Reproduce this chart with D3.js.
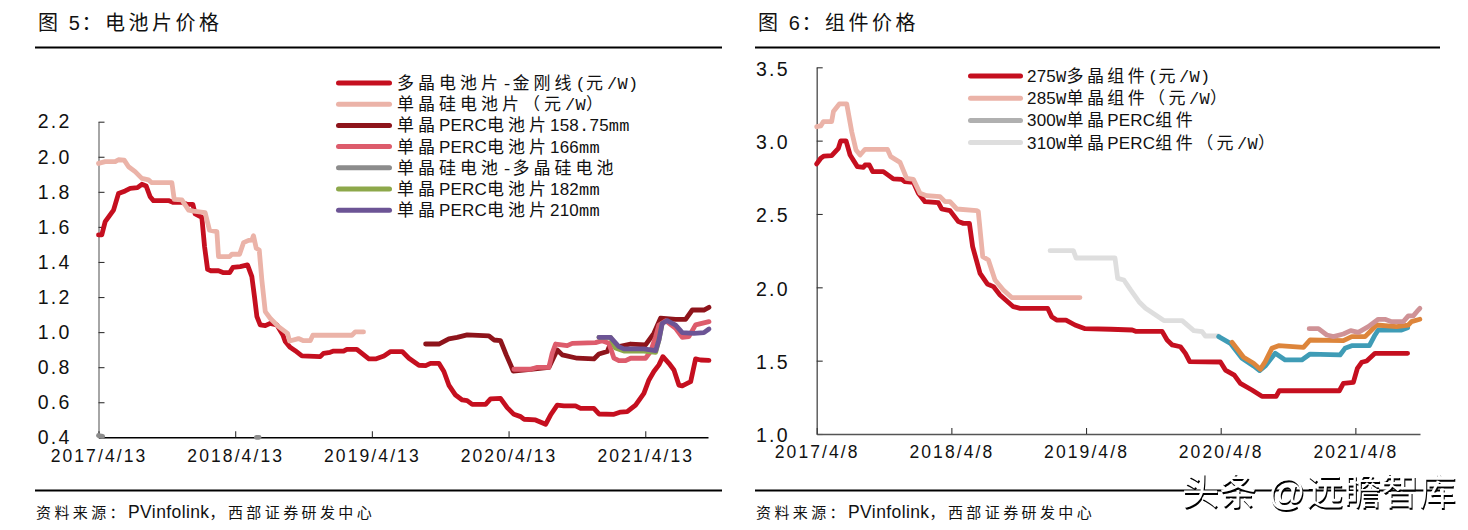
<!DOCTYPE html>
<html><head><meta charset="utf-8">
<script src="https://cdn.jsdelivr.net/npm/d3@7"></script>
<style>
html,body{margin:0;padding:0;background:#fff}
svg{display:block}
text{font-family:"Liberation Sans","Noto Sans CJK SC",sans-serif;fill:#111}
</style></head><body>
<svg id="c" width="1468" height="530"></svg>
<script>
// x values are years elapsed since the first date on each chart's axis
const cellTickLabels=["2017/4/13","2018/4/13","2019/4/13","2020/4/13","2021/4/13"];
const moduleTickLabels=["2017/4/8","2018/4/8","2019/4/8","2020/4/8","2021/4/8"];
const cellYTicks=[0.4,0.6,0.8,1.0,1.2,1.4,1.6,1.8,2.0,2.2];
const moduleYTicks=[1.0,1.5,2.0,2.5,3.0,3.5];

const polyCellT=[0,.024,.049,.11,.146,.195,.232,.285,.317,.349,.378,.402,.512,.544,.61,.646,.69,.707,.756,.776,.798,.822,.878,.915,.959,.983,1.037,1.09,1.122,1.141,1.159,1.183,1.22,1.256,1.305,1.349,1.366,1.402,1.439,1.488,1.622,1.646,1.695,1.72,1.793,1.817,1.89,1.941,1.978,2.027,2.088,2.137,2.222,2.271,2.344,2.393,2.429,2.49,2.527,2.563,2.612,2.661,2.697,2.734,2.832,2.868,2.941,2.99,3.039,3.088,3.112,3.197,3.271,3.307,3.356,3.405,3.49,3.527,3.624,3.661,3.771,3.82,3.868,3.929,3.99,4.027,4.063,4.1,4.129,4.173,4.21,4.246,4.271,4.332,4.368,4.405,4.466];
const polyCellV=[1.554,1.554,1.63,1.696,1.79,1.805,1.82,1.824,1.843,1.833,1.772,1.75,1.75,1.74,1.74,1.729,1.729,1.674,1.655,1.487,1.358,1.35,1.35,1.339,1.339,1.369,1.373,1.383,1.316,1.202,1.088,1.041,1.037,1.05,1.041,.984,.946,.913,.894,.864,.86,.879,.885,.892,.892,.902,.902,.87,.847,.847,.864,.889,.889,.851,.811,.809,.822,.822,.775,.698,.641,.613,.609,.588,.588,.619,.622,.569,.531,.518,.503,.499,.474,.527,.584,.579,.579,.565,.565,.533,.531,.544,.546,.584,.651,.727,.775,.813,.86,.822,.784,.698,.693,.717,.847,.841,.839];
const monoCellT=[0,.049,.122,.146,.188,.22,.268,.317,.366,.39,.537,.554,.61,.659,.695,.78,.812,.866,.878,.959,.976,1.032,1.061,1.098,1.122,1.134,1.154,1.176,1.195,1.22,1.256,1.317,1.383,1.398,1.463,1.5,1.549,1.568,1.854,1.878,1.939];
const monoCellV=[1.962,1.972,1.972,1.983,1.981,1.943,1.915,1.877,1.868,1.852,1.852,1.757,1.754,1.696,1.69,1.681,1.582,1.573,1.43,1.43,1.444,1.444,1.51,1.523,1.525,1.55,1.478,1.468,1.297,1.117,1.079,1.031,.993,.949,.963,.951,.951,.982,.982,1.001,1.001];
const perc158T=[2.393,2.49,2.563,2.624,2.697,2.856,2.893,2.941,2.983,3.015,3.034,3.161,3.295,3.356,3.393,3.502,3.624,3.661,3.722,3.746,3.807,3.893,4.002,4.063,4.112,4.222,4.295,4.344,4.429,4.466];
const perc158V=[.932,.932,.961,.97,.984,.978,.955,.951,.87,.813,.778,.788,.799,.898,.87,.851,.847,.875,.889,.936,.917,.932,.927,.993,1.079,1.073,1.073,1.126,1.126,1.141];
const perc166T=[3.039,3.161,3.21,3.295,3.319,3.344,3.429,3.466,3.636,3.685,3.734,3.771,3.807,3.856,3.893,4.002,4.039,4.076,4.1,4.149,4.222,4.271,4.319,4.368,4.466];
const perc166V=[.788,.788,.799,.799,.879,.932,.923,.936,.94,.951,.936,.851,.837,.837,.851,.851,.889,.974,1.041,1.065,1.022,.97,.974,1.041,1.06];
const spreadT=[0,.03,null,1.155,1.175];
const spreadV=[.41,.405,null,.4,.4];
const perc182T=[3.661,3.746,3.782,3.844,3.99,4.076,4.1,4.124];
const perc182V=[.97,.97,.91,.892,.892,.885,.955,1.05];
const perc210T=[3.661,3.746,3.807,3.844,3.99,4.076,4.1,4.124,4.161,4.222,4.271,4.356,4.429,4.466];
const perc210V=[.97,.97,.917,.904,.904,.894,.955,1.05,1.065,1.04,.997,.993,.997,1.018];

const m275T=[0,.03,.054,.111,.161,.178,.218,.248,.302,.347,.359,.391,.416,.495,.569,.631,.656,.718,.755,.804,.903,.928,.99,1.052,1.089,1.134,1.158,1.213,1.267,1.312,1.361,1.46,1.51,1.715,1.745,1.782,1.851,1.918,1.993,2.183,2.343,2.368,2.565,2.602,2.64,2.701,2.738,2.77,2.998,3.035,3.101,3.146,3.232,3.306,3.412,3.435,3.881,3.911,3.985,4.015,4.047,4.084,4.146,4.388];
const m275V=[2.841,2.88,2.895,2.898,2.948,2.998,2.998,2.902,2.823,2.818,2.834,2.834,2.789,2.789,2.739,2.736,2.72,2.716,2.641,2.584,2.577,2.534,2.523,2.448,2.436,2.436,2.277,2.095,2.023,2.005,1.948,1.868,1.857,1.857,1.8,1.777,1.777,1.743,1.718,1.714,1.709,1.7,1.7,1.641,1.607,1.595,1.55,1.493,1.491,1.436,1.402,1.345,1.3,1.257,1.257,1.295,1.295,1.345,1.352,1.448,1.489,1.498,1.55,1.55];
const m285T=[0,.03,.05,.111,.124,.168,.223,.26,.292,.322,.359,.525,.55,.619,.668,.718,.767,.817,.916,.953,.99,1.04,1.188,1.2,1.233,1.275,1.324,1.386,1.448,1.955];
const m285V=[3.095,3.1,3.13,3.13,3.198,3.25,3.25,3.061,2.936,2.902,2.941,2.941,2.891,2.852,2.743,2.736,2.641,2.625,2.618,2.584,2.584,2.534,2.523,2.516,2.209,2.186,2.05,1.982,1.93,1.93];
const m300T=[];
const m300V=[];
const m310T=[1.733,1.906,1.926,2.215,2.235,2.281,2.331,2.393,2.442,2.578,2.714,2.8,2.862,2.886,2.985];
const m310V=[2.25,2.25,2.2,2.2,2.061,2.05,1.982,1.902,1.857,1.773,1.773,1.705,1.698,1.668,1.668];
const tealT=[2.985,3.072,3.158,3.244,3.289,3.331,3.405,3.479,3.602,3.664,3.886,3.923,3.973,4.104,4.146,4.17,4.343,4.388];
const tealV=[1.664,1.618,1.516,1.464,1.432,1.464,1.55,1.505,1.505,1.545,1.539,1.584,1.602,1.602,1.675,1.709,1.709,1.725];
const orangeT=[3.084,3.17,3.244,3.294,3.331,3.38,3.43,3.615,3.664,3.911,3.973,4.072,4.158,4.306,4.393,4.417,4.479];
const orangeV=[1.625,1.523,1.482,1.441,1.493,1.584,1.602,1.591,1.641,1.636,1.664,1.664,1.743,1.732,1.743,1.766,1.782];
const roseT=[3.657,3.726,3.788,3.837,3.911,3.965,4.022,4.096,4.17,4.22,4.269,4.356,4.393,4.43,4.467,4.479];
const roseV=[1.718,1.718,1.675,1.664,1.682,1.705,1.693,1.732,1.782,1.782,1.766,1.766,1.805,1.805,1.845,1.857];

const cellNames=["多晶电池片-金刚线(元/W)","单晶硅电池片（元/W）","单晶PERC电池片158.75mm","单晶PERC电池片166mm","单晶硅电池-多晶硅电池","单晶PERC电池片182mm","单晶PERC电池片210mm"];
const moduleNames=["275W多晶组件(元/W)","285W单晶组件（元/W）","300W单晶PERC组件","310W单晶PERC组件（元/W）"];

const RED="#C50F1F",SAL="#EBB3A8";
const svg=d3.select("#c");

// runs of text set in different faces
function rich(sel,str,st){
  const re=/[\u2E80-\uFFEF]+|[-()\/W.m]+|[^\u2E80-\uFFEF\-()\/W.m]+/g;
  (str.match(re)||[]).forEach(run=>{
    const isCjk=/[\u2E80-\uFFEF]/.test(run), isMono=/^[-()\/W.m]+$/.test(run)&&st.mono;
    const ts=sel.append("tspan").text(run);
    if(isCjk) ts.style("font-family","'Noto Sans CJK SC'").style("font-size",st.cjk+"px").style("letter-spacing",st.cjkSp+"px");
    else if(isMono) ts.style("font-family","'Liberation Mono'").style("font-size",st.lat+"px").style("letter-spacing",st.monoSp+"px");
    else ts.style("font-family","'Liberation Sans'").style("font-size",st.lat+"px").style("letter-spacing",st.latSp+"px");
  });
}

function panel(o){
  const g=svg.append("g");
  // header, footer
  rich(g.append("text").attr("x",o.left+3).attr("y",30).attr("xml:space","preserve"),o.title,{cjk:20,cjkSp:3.5,lat:20,latSp:1.6});
  g.append("line").attr("x1",o.left).attr("x2",o.right).attr("y1",47.5).attr("y2",47.5).attr("stroke","#000").attr("stroke-width",2);
  g.append("line").attr("x1",o.left).attr("x2",o.right).attr("y1",490.5).attr("y2",490.5).attr("stroke","#000").attr("stroke-width",2);
  rich(g.append("text").attr("x",o.left+1).attr("y",518),"资料来源：PVinfolink，西部证券研发中心",{cjk:15,cjkSp:3.4,lat:17.5,latSp:.4});

  const x=d3.scaleLinear().domain([0,o.tMax]).range([o.x0,o.x1]);
  const y=d3.scaleLinear().domain(o.yDomain).range([o.y0,o.y1]);
  const line=d3.line().defined(d=>d[0]!==null).x(d=>x(d[0])).y(d=>y(d[1])).curve(d3.curveLinear);

  // axes
  const ax=g.append("g").attr("transform",`translate(${o.x0},0)`)
    .call(d3.axisLeft(y).tickValues(o.yTicks).tickFormat(d3.format(".1f")).tickSizeInner(-6).tickSizeOuter(0).tickPadding(27));
  ax.select(".domain").attr("stroke",o.axisColor).attr("stroke-width",1.4);
  ax.selectAll("line").attr("stroke","#333").attr("stroke-width",1.1);
  ax.selectAll("text").attr("dy",o.yDy).style("font-size","19.5px").style("letter-spacing","2.2px").style("font-family","'Liberation Sans'");
  const bx=g.append("g").attr("transform",`translate(0,${o.y0})`)
    .call(d3.axisBottom(x).tickValues([0,1,2,3,4]).tickFormat((d,i)=>o.xLabels[i]).tickSizeInner(-6).tickSizeOuter(0).tickPadding(o.xPad));
  bx.select(".domain").attr("stroke",o.xAxisColor).attr("stroke-width",1.4);
  bx.selectAll("line").attr("stroke","#333").attr("stroke-width",1.1);
  bx.selectAll("text").style("font-size","17.5px").style("letter-spacing","2.1px").style("font-family","'Liberation Sans'");

  // series
  o.series.forEach(s=>{
    g.append("path").datum(s.t.map((t,i)=>[t,s.v[i]])).attr("d",line)
      .attr("fill","none").attr("stroke",s.c).attr("stroke-width",o.lw)
      .attr("stroke-linejoin","round").attr("stroke-linecap","round");
  });

  // legend
  o.legend.forEach((l,i)=>{
    const ly=o.lgY+i*o.lgStep;
    g.append("line").attr("x1",o.lgX0).attr("x2",o.lgX1).attr("y1",ly).attr("y2",ly)
      .attr("stroke",l.c).attr("stroke-width",5).attr("stroke-linecap","round");
    rich(g.append("text").attr("x",o.lgTx).attr("y",ly+6),l.n,{cjk:17,cjkSp:o.lgCjkSp,lat:17,latSp:.2,mono:true,monoSp:.3});
  });
}

const cellColors=[RED,SAL,"#8E141B","#DD5C6C","#8C8C8C","#8DA84A","#6C5495"];
panel({left:35,right:722,title:"图 5：电池片价格",
  x0:98.5,x1:708,tMax:4.459,yDomain:[0.4,2.2],y0:437.3,y1:121.7,yTicks:cellYTicks,yDy:"0.32em",xPad:12.5,
  axisColor:"#808080",xAxisColor:"#000",xLabels:cellTickLabels,lw:4.8,
  series:[
    {t:polyCellT,v:polyCellV,c:cellColors[0]},
    {t:monoCellT,v:monoCellV,c:cellColors[1]},
    {t:perc158T,v:perc158V,c:cellColors[2]},
    {t:perc166T,v:perc166V,c:cellColors[3]},
    {t:spreadT,v:spreadV,c:cellColors[4]},
    {t:perc182T,v:perc182V,c:cellColors[5]},
    {t:perc210T,v:perc210V,c:cellColors[6]}],
  legend:cellNames.map((n,i)=>({n,c:cellColors[i]})),
  lgX0:338.5,lgX1:389.5,lgTx:397,lgY:83,lgStep:21.2,lgCjkSp:4});

const moduleColors=[RED,SAL,"#B0B0B0","#DEDEDE"];
panel({left:755,right:1440,title:"图 6：组件价格",
  x0:816.7,x1:1420,tMax:4.48,yDomain:[1,3.5],y0:434,y1:67.3,yTicks:moduleYTicks,yDy:"0.4em",xPad:12,
  axisColor:"#555",xAxisColor:"#555",xLabels:moduleTickLabels,lw:4.8,
  series:[
    {t:m275T,v:m275V,c:moduleColors[0]},
    {t:m285T,v:m285V,c:moduleColors[1]},
    {t:m300T,v:m300V,c:moduleColors[2]},
    {t:m310T,v:m310V,c:moduleColors[3]},
    {t:tealT,v:tealV,c:"#3F9CB6"},
    {t:orangeT,v:orangeV,c:"#DD853B"},
    {t:roseT,v:roseV,c:"#CF9296"}],
  legend:moduleNames.map((n,i)=>({n,c:moduleColors[i]})),
  lgX0:970.5,lgX1:1020.5,lgTx:1027,lgY:76,lgStep:22.2,lgCjkSp:3.4});

// watermark
svg.append("text").attr("x",1182).attr("y",505).text("头条 @远瞻智库")
  .style("font-size","37px").style("fill","#fff").style("letter-spacing","0.6px")
  .style("filter","drop-shadow(1px 2px 0 #000)");
</script>
</body></html>
